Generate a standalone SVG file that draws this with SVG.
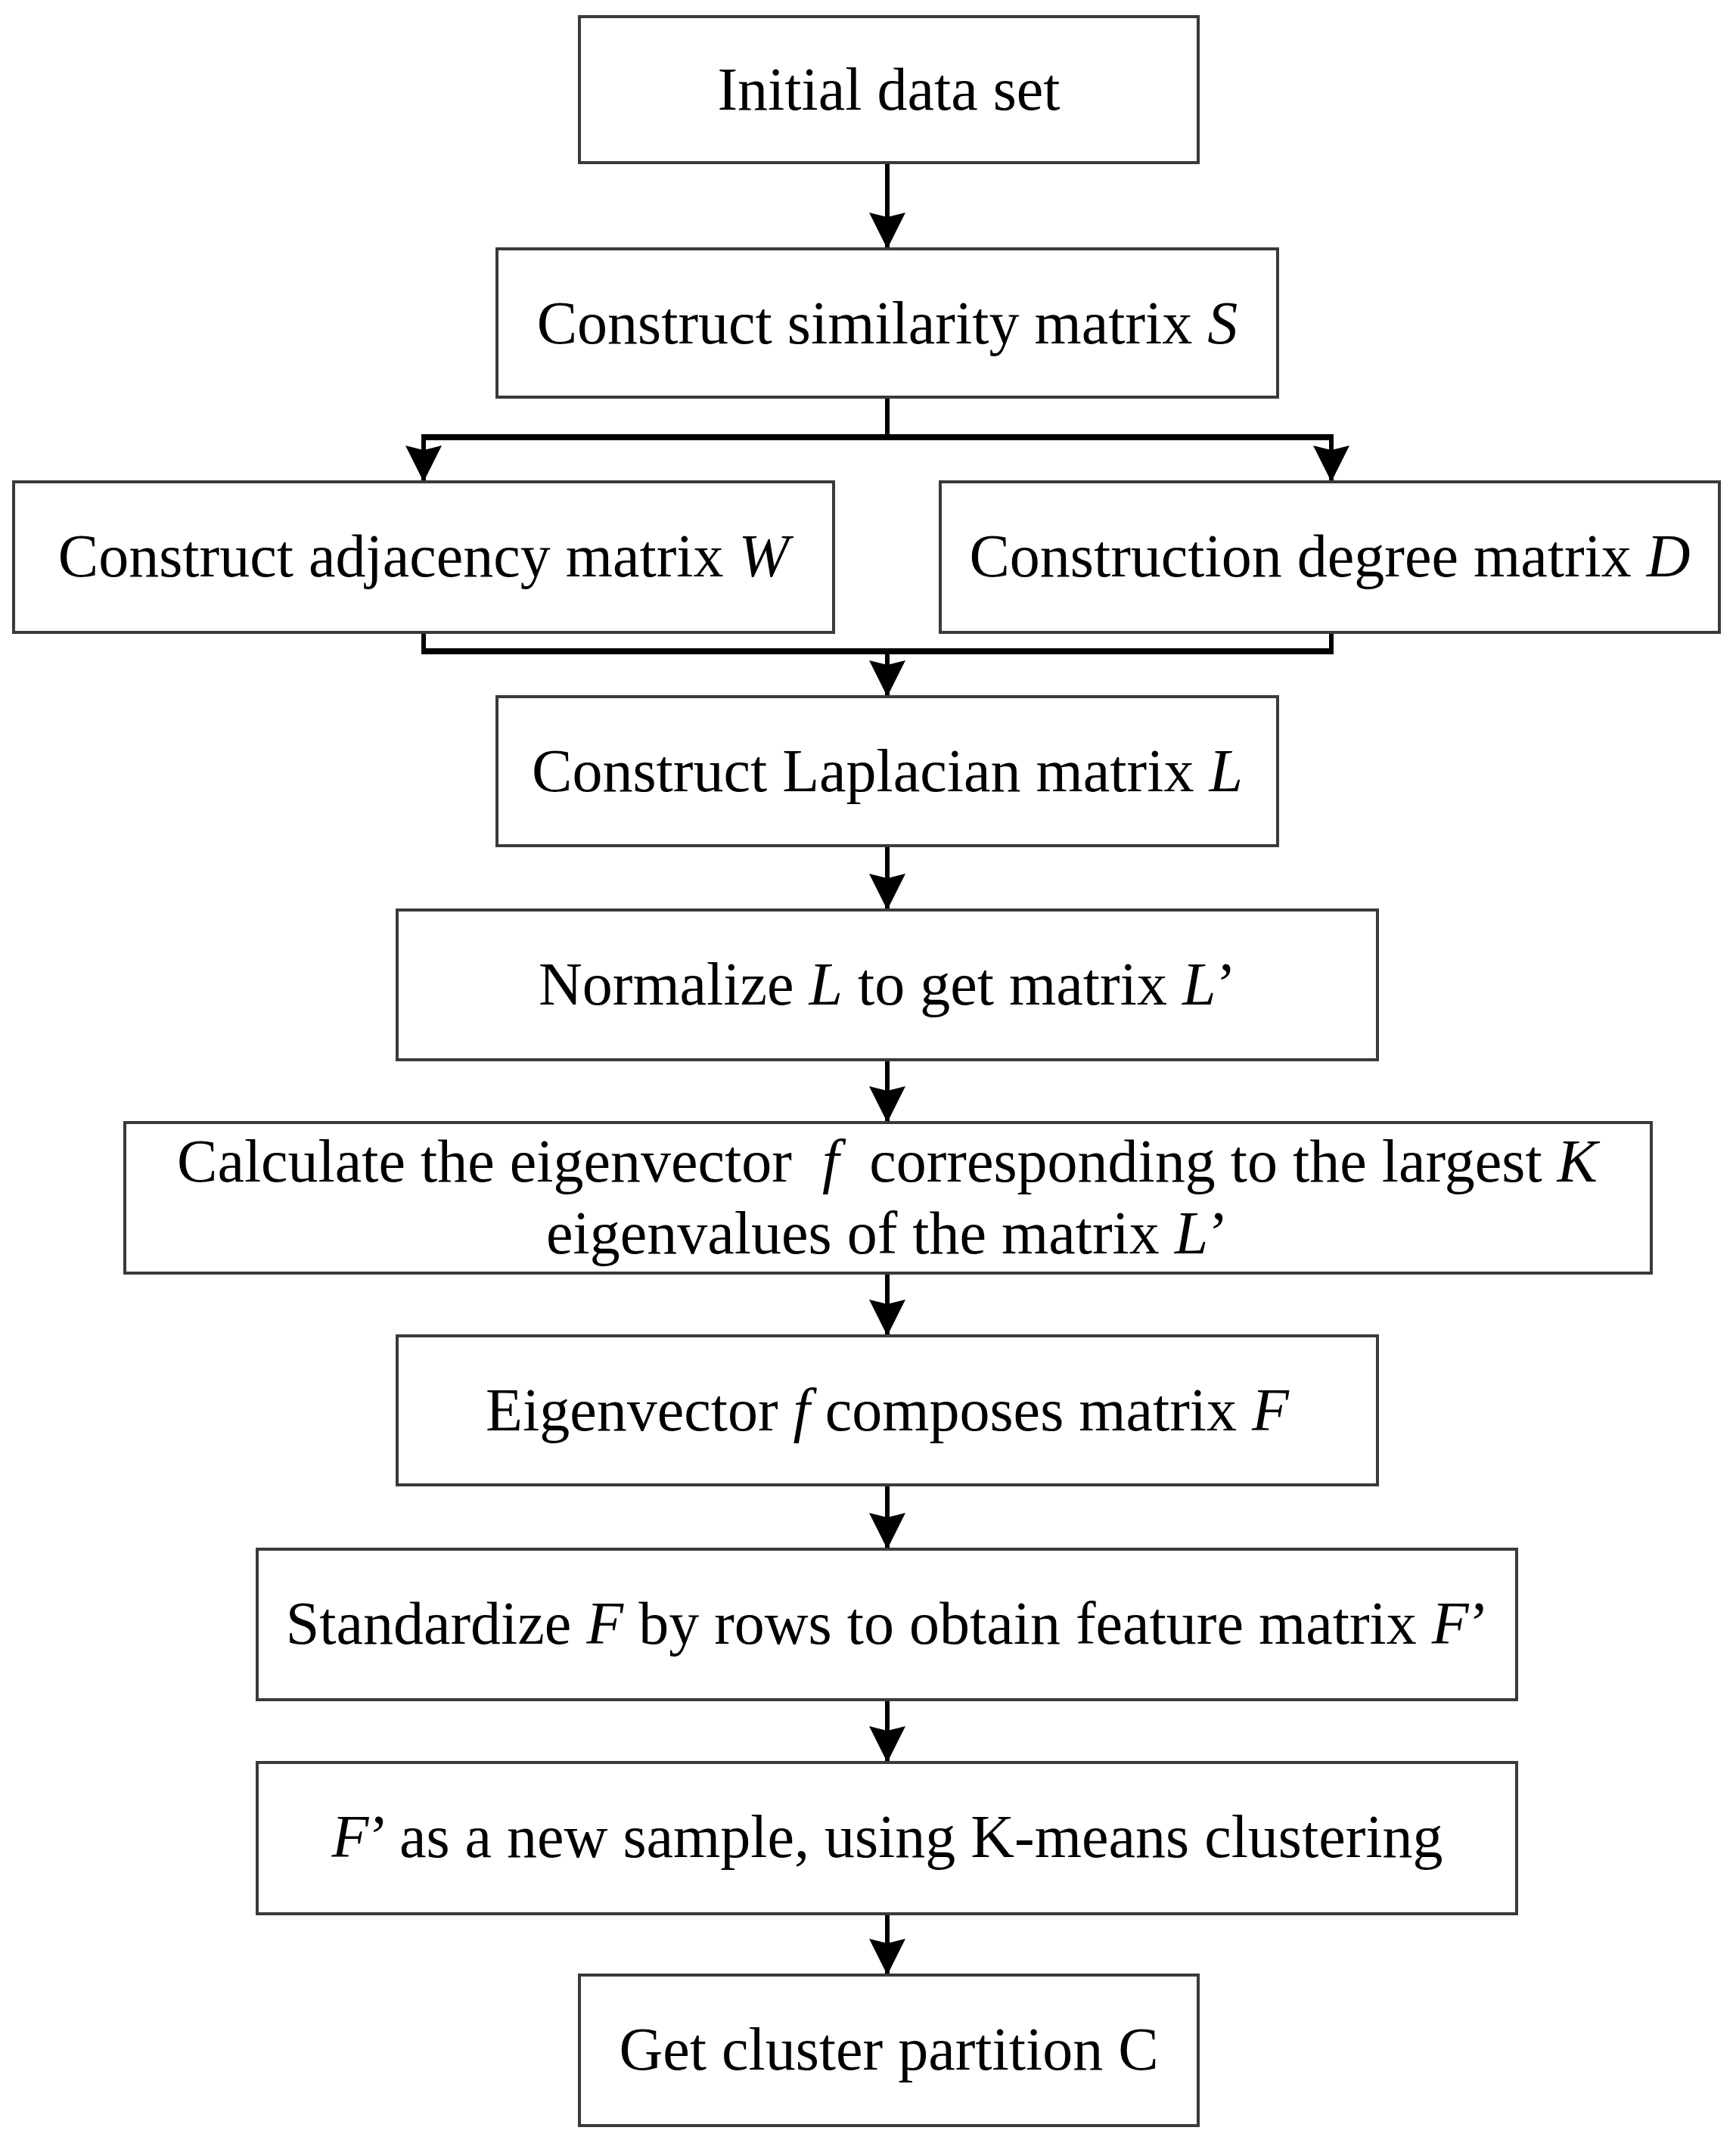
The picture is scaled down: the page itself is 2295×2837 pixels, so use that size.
<svg xmlns="http://www.w3.org/2000/svg" width="2295" height="2837" viewBox="0 0 2295 2837">
<style>
.box{fill:#fff;stroke:#3a3a3a;stroke-width:4}
.t{font-family:"Liberation Serif","Times New Roman",serif;font-size:80px;fill:#000;text-anchor:middle}
.i{font-style:italic}
.c{fill:none;stroke:#000;stroke-width:6}
.m{fill:none;stroke:#000;stroke-width:8}
</style>
<defs>
<marker id="ah" markerUnits="userSpaceOnUse" markerWidth="52" markerHeight="52" refX="48" refY="24" orient="auto">
<path d="M0,0 L48,24 L0,48 L6,24 z" fill="#000"/>
</marker>
</defs>
<rect width="2295" height="2837" fill="#fff"/>
<g id="connectors">
<line class="c" x1="1173" y1="215" x2="1173" y2="329" marker-end="url(#ah)"/>
<polyline class="c" points="1173,525 1173,578"/>
<polyline class="m" points="557,578 1763,578"/>
<line class="c" x1="560" y1="578" x2="560" y2="637" marker-end="url(#ah)"/>
<line class="c" x1="1760" y1="578" x2="1760" y2="637" marker-end="url(#ah)"/>
<polyline class="c" points="560,836 560,861"/>
<polyline class="c" points="1760,836 1760,861"/>
<polyline class="m" points="557,861 1763,861"/>
<line class="c" x1="1173" y1="861" x2="1173" y2="921" marker-end="url(#ah)"/>
<line class="c" x1="1173" y1="1118" x2="1173" y2="1203" marker-end="url(#ah)"/>
<line class="c" x1="1173" y1="1401" x2="1173" y2="1484" marker-end="url(#ah)"/>
<line class="c" x1="1173" y1="1683" x2="1173" y2="1766" marker-end="url(#ah)"/>
<line class="c" x1="1173" y1="1963" x2="1173" y2="2048" marker-end="url(#ah)"/>
<line class="c" x1="1173" y1="2247" x2="1173" y2="2330" marker-end="url(#ah)"/>
<line class="c" x1="1173" y1="2530" x2="1173" y2="2611" marker-end="url(#ah)"/>
</g>
<g id="n1"><rect class="box" x="766" y="22" width="818" height="193"/><text class="t" x="1175" y="145">Initial data set</text></g>
<g id="n2"><rect class="box" x="657" y="329" width="1032" height="196"/><text class="t" x="1173" y="454">Construct similarity matrix <tspan class="i">S</tspan></text></g>
<g id="n3"><rect class="box" x="18" y="637" width="1084" height="199"/><text class="t" x="560" y="762">Construct adjacency matrix <tspan class="i">W</tspan></text></g>
<g id="n4"><rect class="box" x="1243" y="637" width="1030" height="199"/><text class="t" x="1758" y="762">Construction degree matrix <tspan class="i">D</tspan></text></g>
<g id="n5"><rect class="box" x="657" y="921" width="1032" height="197"/><text class="t" x="1173" y="1046">Construct Laplacian matrix <tspan class="i">L</tspan></text></g>
<g id="n6"><rect class="box" x="525" y="1203" width="1296" height="198"/><text class="t" x="1173" y="1328">Normalize <tspan class="i">L</tspan> to get matrix <tspan class="i">L</tspan>’</text></g>
<g id="n7"><rect class="box" x="165" y="1484" width="2018" height="199"/><text class="t" x="1173" y="1562" xml:space="preserve">Calculate the eigenvector  <tspan class="i">f</tspan>  corresponding to the largest <tspan class="i">K</tspan></text><text class="t" x="1173" y="1657">eigenvalues of the matrix <tspan class="i">L</tspan>’</text></g>
<g id="n8"><rect class="box" x="525" y="1766" width="1296" height="197"/><text class="t" x="1173" y="1891">Eigenvector <tspan class="i">f</tspan> composes matrix <tspan class="i">F</tspan></text></g>
<g id="n9"><rect class="box" x="340" y="2048" width="1665" height="199"/><text class="t" x="1173" y="2173">Standardize <tspan class="i">F</tspan> by rows to obtain feature matrix <tspan class="i">F</tspan>’</text></g>
<g id="n10"><rect class="box" x="340" y="2330" width="1665" height="200"/><text class="t" x="1173" y="2455"><tspan class="i">F</tspan>’ as a new sample, using K-means clustering</text></g>
<g id="n11"><rect class="box" x="766" y="2611" width="818" height="199"/><text class="t" x="1175" y="2736">Get cluster partition C</text></g>
</svg>
